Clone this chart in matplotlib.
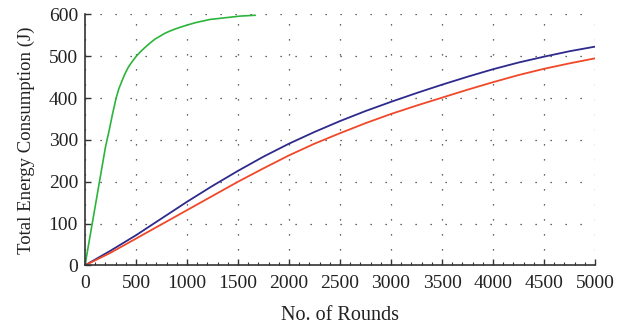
import matplotlib
matplotlib.use("Agg")
import matplotlib.pyplot as plt
from matplotlib.ticker import MultipleLocator

plt.rcParams['font.family'] = ['Liberation Serif', 'DejaVu Serif']

# Data
green_x = [0, 100, 200, 238, 270, 304, 330, 359, 390, 425, 465, 506, 545, 588, 635, 686,
           735, 784, 830, 882, 930, 980, 1078, 1225, 1373, 1520, 1667]
green_y = [0, 141, 282, 324, 362, 399, 421, 439, 457, 474, 488, 501, 511, 521, 531, 541,
           548, 555, 560, 565, 569, 573, 580, 588, 592, 596, 598]

rounds = [0, 250, 500, 750, 1000, 1250, 1500, 1750, 2000, 2250, 2500, 2750, 3000,
          3250, 3500, 3750, 4000, 4250, 4500, 4750, 5000]
blue_y = [0, 35, 72, 112, 152, 190, 226, 260, 291, 319, 345, 369, 391,
          412, 432, 451, 469, 485, 499, 512, 523]
red_y = [0, 30, 64, 98, 132, 166, 200, 232, 263, 291, 316, 340, 362,
         382, 401, 420, 438, 455, 470, 483, 495]

x_ticks = [0, 500, 1000, 1500, 2000, 2500, 3000, 3500, 4000, 4500, 5000]
y_ticks = [0, 100, 200, 300, 400, 500, 600]

fig = plt.figure(figsize=(6.31, 3.28), dpi=100)
ax = fig.add_axes([0.1347, 0.191, 0.943 - 0.1347, 0.956 - 0.191])

ax.plot(green_x, green_y, color='#2cb53c', lw=1.2, solid_joinstyle='round')
ax.plot(rounds, blue_y, color='#2e2a8c', lw=1.3, solid_joinstyle='round')
ax.plot(rounds, red_y, color='#f04828', lw=1.3, solid_joinstyle='round')

ax.set_xlim(0, 5000)
ax.set_ylim(0, 600)
ax.set_xticks(x_ticks)
ax.set_yticks(y_ticks)
ax.xaxis.set_minor_locator(MultipleLocator(100))

ax.grid(True, which='major', color='#333333', linestyle=(0, (1, 11)), linewidth=0.9)
for s in ['top', 'right']:
    ax.spines[s].set_visible(False)
for s in ['left', 'bottom']:
    ax.spines[s].set_linewidth(1.2)
    ax.spines[s].set_color('#333333')

ax.tick_params(axis='both', which='major', direction='in', length=4, width=1.0,
               labelsize=14, colors='#333333', labelcolor='#222222')
ax.tick_params(axis='x', which='major', pad=7)
ax.tick_params(axis='y', which='major', pad=5)
ax.tick_params(axis='x', which='minor', direction='in', length=2, width=0.8, colors='#333333')

ax.set_xlabel('No. of Rounds', fontsize=14.5, color='#222222', labelpad=10)
ax.set_ylabel('Total Energy Consumption (J)', fontsize=13.5, color='#222222', labelpad=10)

fig.savefig('out.png', dpi=100)
